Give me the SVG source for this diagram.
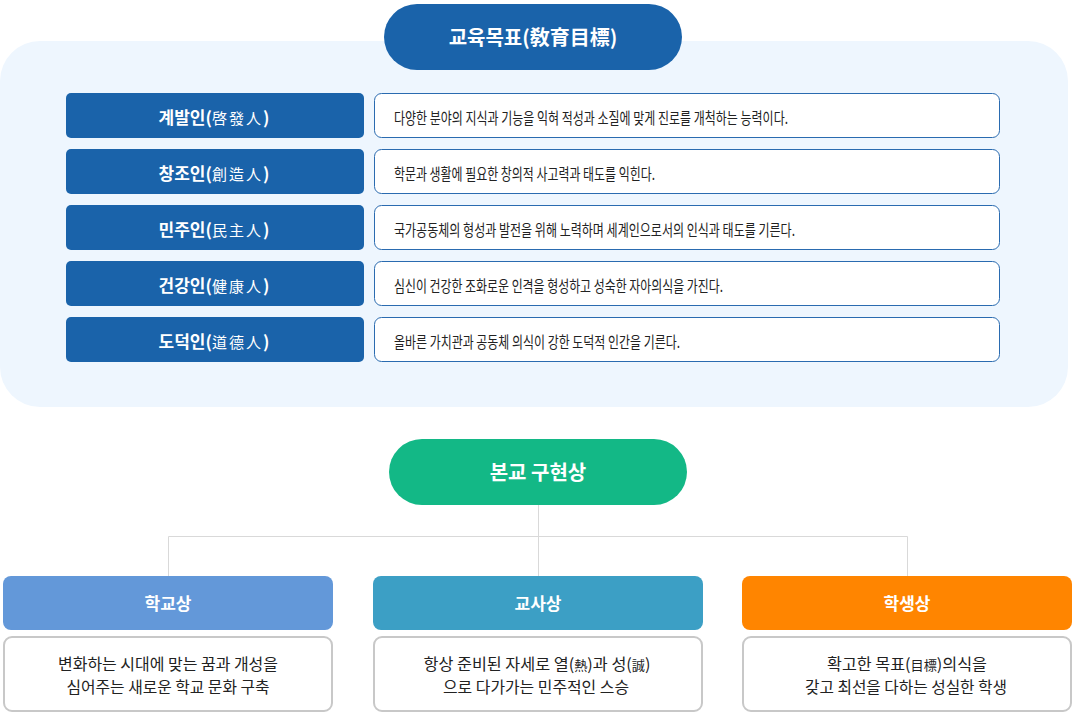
<svg xmlns="http://www.w3.org/2000/svg" width="1073" height="722" viewBox="0 0 1073 722">
<style>
text{font-family:"Noto Sans CJK KR","Noto Sans",sans-serif}
.lbl{fill:#1a63aa}
.lt{fill:#fff;font-size:17px;font-weight:700;text-anchor:middle}
.hj{font-size:15px;font-weight:400;letter-spacing:2px}
.desc{fill:#fff;stroke:#2a6bb0;stroke-width:1}
.dt{fill:#222;font-size:16px}
.hd{fill:#fff;font-size:17px;font-weight:700;text-anchor:middle}
.box{fill:#fff;stroke:#c8c8c8;stroke-width:2}
.bt{fill:#222;font-size:16px;text-anchor:middle}
.sm{font-size:13px}
.conn{stroke:#d9d9d9;stroke-width:1;fill:none}
</style>
<rect x="0" y="0" width="1073" height="722" fill="#fff"/>
<rect id="panel" x="0" y="41" width="1068" height="366" rx="40" fill="#eef6fe"/>
<g id="goal">
<rect x="384" y="4" width="298" height="66" rx="33" fill="#1a63aa"/>
<text x="533" y="45" fill="#fff" font-size="20" font-weight="700" text-anchor="middle">교육목표(敎育目標)</text>
</g>
<g id="row1">
<rect class="lbl" x="66" y="93" width="298" height="45" rx="5"/>
<text class="lt" x="214" y="124">계발인(<tspan class="hj">啓發人</tspan>)</text>
<rect class="desc" x="374.5" y="93.5" width="625" height="44" rx="7"/>
<text class="dt" x="394" y="124" textLength="394" lengthAdjust="spacingAndGlyphs">다양한 분야의 지식과 기능을 익혀 적성과 소질에 맞게 진로를 개척하는 능력이다.</text>
</g>
<g id="row2">
<rect class="lbl" x="66" y="149" width="298" height="45" rx="5"/>
<text class="lt" x="214" y="180">창조인(<tspan class="hj">創造人</tspan>)</text>
<rect class="desc" x="374.5" y="149.5" width="625" height="44" rx="7"/>
<text class="dt" x="394" y="180" textLength="261" lengthAdjust="spacingAndGlyphs">학문과 생활에 필요한 창의적 사고력과 태도를 익힌다.</text>
</g>
<g id="row3">
<rect class="lbl" x="66" y="205" width="298" height="45" rx="5"/>
<text class="lt" x="214" y="236">민주인(<tspan class="hj">民主人</tspan>)</text>
<rect class="desc" x="374.5" y="205.5" width="625" height="44" rx="7"/>
<text class="dt" x="394" y="236" textLength="401" lengthAdjust="spacingAndGlyphs">국가공동체의 형성과 발전을 위해 노력하며 세계인으로서의 인식과 태도를 기른다.</text>
</g>
<g id="row4">
<rect class="lbl" x="66" y="261" width="298" height="45" rx="5"/>
<text class="lt" x="214" y="292">건강인(<tspan class="hj">健康人</tspan>)</text>
<rect class="desc" x="374.5" y="261.5" width="625" height="44" rx="7"/>
<text class="dt" x="394" y="292" textLength="329" lengthAdjust="spacingAndGlyphs">심신이 건강한 조화로운 인격을 형성하고 성숙한 자아의식을 가진다.</text>
</g>
<g id="row5">
<rect class="lbl" x="66" y="317" width="298" height="45" rx="5"/>
<text class="lt" x="214" y="348">도덕인(<tspan class="hj">道德人</tspan>)</text>
<rect class="desc" x="374.5" y="317.5" width="625" height="44" rx="7"/>
<text class="dt" x="394" y="348" textLength="286" lengthAdjust="spacingAndGlyphs">올바른 가치관과 공동체 의식이 강한 도덕적 인간을 기른다.</text>
</g>
<g id="connectors">
<path class="conn" d="M538.5 505V536.5M168.5 576V536.5H907.5V576M538.5 536.5V576"/>
</g>
<g id="vision">
<rect x="389" y="439" width="298" height="66" rx="33" fill="#13b886"/>
<text x="538" y="480" fill="#fff" font-size="20" font-weight="700" text-anchor="middle">본교 구현상</text>
</g>
<g id="school">
<rect x="3" y="576" width="330" height="54" rx="8" fill="#6398d9"/>
<text class="hd" x="168" y="610">학교상</text>
<rect class="box" x="4" y="637" width="328" height="74" rx="8"/>
<text class="bt" x="168" y="670" textLength="220" lengthAdjust="spacingAndGlyphs">변화하는 시대에 맞는 꿈과 개성을</text>
<text class="bt" x="168" y="693" textLength="203" lengthAdjust="spacingAndGlyphs">심어주는 새로운 학교 문화 구축</text>
</g>
<g id="teacher">
<rect x="373" y="576" width="330" height="54" rx="8" fill="#3c9fc5"/>
<text class="hd" x="538" y="610">교사상</text>
<rect class="box" x="374" y="637" width="328" height="74" rx="8"/>
<text class="bt" x="537" y="670" textLength="227" lengthAdjust="spacingAndGlyphs">항상 준비된 자세로 열(<tspan class="sm">熱</tspan>)과 성(<tspan class="sm">誠</tspan>)</text>
<text class="bt" x="536" y="693" textLength="186" lengthAdjust="spacingAndGlyphs">으로 다가가는 민주적인 스승</text>
</g>
<g id="student">
<rect x="742" y="576" width="330" height="54" rx="8" fill="#ff8500"/>
<text class="hd" x="907" y="610">학생상</text>
<rect class="box" x="743" y="637" width="328" height="74" rx="8"/>
<text class="bt" x="907" y="670" textLength="160" lengthAdjust="spacingAndGlyphs">확고한 목표(<tspan class="sm">目標</tspan>)의식을</text>
<text class="bt" x="906" y="693" textLength="202" lengthAdjust="spacingAndGlyphs">갖고 최선을 다하는 성실한 학생</text>
</g>
</svg>
